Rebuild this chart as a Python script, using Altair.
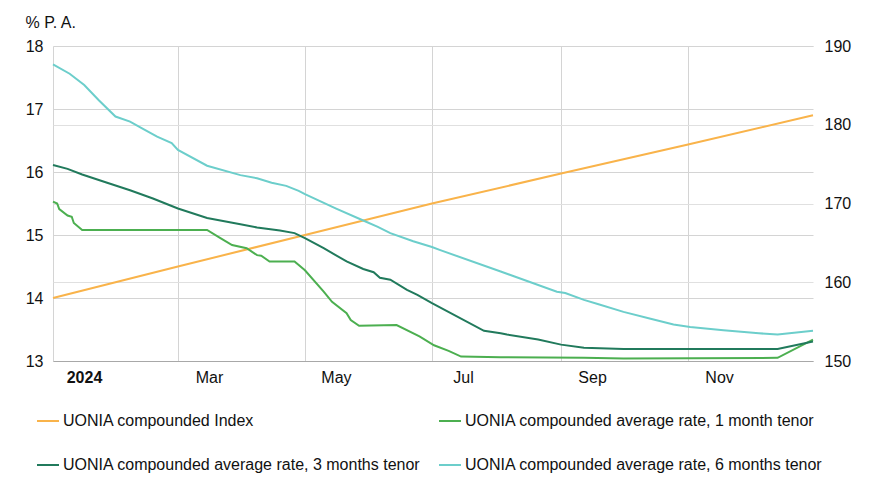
import altair as alt
import pandas as pd

S_INDEX = "UONIA compounded Index"
S_1M = "UONIA compounded average rate, 1 month tenor"
S_3M = "UONIA compounded average rate, 3 months tenor"
S_6M = "UONIA compounded average rate, 6 months tenor"

series_names = [S_INDEX, S_1M, S_3M, S_6M]
series_colors = ["#f9b34a", "#4caf50", "#217a5c", "#6ccecb"]

index_dates = ["2024-01-01", "2024-03-01", "2024-05-01", "2024-07-01",
               "2024-09-01", "2024-11-01", "2024-12-31"]
index_values = [158.0, 162.0, 166.0, 170.0, 173.8, 177.5, 181.2]

m1_dates = ["2024-01-01", "2024-01-03", "2024-01-04", "2024-01-08", "2024-01-10", "2024-01-11",
            "2024-01-15", "2024-03-15", "2024-03-21", "2024-03-27", "2024-04-03", "2024-04-08",
            "2024-04-10", "2024-04-14", "2024-04-26", "2024-05-01", "2024-05-10", "2024-05-14",
            "2024-05-21", "2024-05-23", "2024-05-27", "2024-06-14", "2024-06-25", "2024-07-02",
            "2024-07-09", "2024-07-15", "2024-08-03", "2024-09-12", "2024-10-01", "2024-12-14",
            "2024-12-31"]
m1_values = [15.53, 15.50, 15.41, 15.31, 15.29, 15.19,
             15.08, 15.08, 14.96, 14.84, 14.79, 14.68,
             14.67, 14.58, 14.58, 14.44, 14.10, 13.94,
             13.76, 13.65, 13.56, 13.57, 13.39, 13.25,
             13.16, 13.07, 13.06, 13.05, 13.04, 13.05,
             13.34]

m3_dates = ["2024-01-01", "2024-01-08", "2024-01-15", "2024-01-27", "2024-02-07", "2024-02-18",
            "2024-02-27", "2024-03-01", "2024-03-15", "2024-03-31", "2024-04-08", "2024-04-19",
            "2024-04-26", "2024-05-01", "2024-05-10", "2024-05-21", "2024-05-29", "2024-06-03",
            "2024-06-06", "2024-06-11", "2024-06-19", "2024-06-24", "2024-07-01", "2024-07-26",
            "2024-08-03", "2024-08-06", "2024-08-21", "2024-09-01", "2024-09-12", "2024-10-01",
            "2024-12-14", "2024-12-31"]
m3_values = [16.11, 16.05, 15.96, 15.83, 15.71, 15.58,
             15.46, 15.42, 15.27, 15.17, 15.12, 15.07,
             15.03, 14.95, 14.79, 14.58, 14.46, 14.41,
             14.32, 14.29, 14.13, 14.05, 13.92, 13.48,
             13.44, 13.42, 13.34, 13.26, 13.21, 13.19,
             13.19, 13.31]

m6_dates = ["2024-01-01", "2024-01-09", "2024-01-16", "2024-01-23", "2024-01-31", "2024-02-07",
            "2024-02-13", "2024-02-20", "2024-02-27", "2024-03-01", "2024-03-15", "2024-03-31",
            "2024-04-08", "2024-04-15", "2024-04-22", "2024-04-28", "2024-05-01", "2024-05-16",
            "2024-05-29", "2024-06-05", "2024-06-11", "2024-06-22", "2024-07-01", "2024-07-05",
            "2024-08-03", "2024-08-30", "2024-09-03", "2024-09-12", "2024-09-19", "2024-10-01",
            "2024-10-14", "2024-10-25", "2024-11-02", "2024-11-18", "2024-12-05", "2024-12-14",
            "2024-12-31"]
m6_values = [17.71, 17.56, 17.38, 17.14, 16.88, 16.80,
             16.69, 16.56, 16.46, 16.35, 16.10, 15.95,
             15.90, 15.83, 15.78, 15.70, 15.65, 15.42,
             15.23, 15.13, 15.03, 14.90, 14.81, 14.76,
             14.42, 14.10, 14.08, 13.97, 13.90, 13.78,
             13.67, 13.58, 13.54, 13.49, 13.44, 13.42,
             13.48]

left_ticks = [13, 14, 15, 16, 17, 18]
right_ticks = [150, 160, 170, 180, 190]

index_df = pd.DataFrame({"date": index_dates, "value": index_values, "series": S_INDEX})
rates_df = pd.concat([
    pd.DataFrame({"date": m1_dates, "value": m1_values, "series": S_1M}),
    pd.DataFrame({"date": m3_dates, "value": m3_values, "series": S_3M}),
    pd.DataFrame({"date": m6_dates, "value": m6_values, "series": S_6M}),
], ignore_index=True)

FONT = "Liberation Sans"

x_ticks = [alt.DateTime(year=2024, month=m, date=1, utc=True) for m in [1, 3, 5, 7, 9, 11]]

x_enc = alt.X(
    "date:T",
    scale=alt.Scale(type="utc", domain=[alt.DateTime(year=2024, month=1, date=1, utc=True),
                                        alt.DateTime(year=2024, month=12, date=31, utc=True)]),
    axis=alt.Axis(
        values=x_ticks,
        labelExpr="utcFormat(datum.value, utcmonth(datum.value) == 0 ? '%Y' : '%b')",
        labelFontWeight={"condition": {"test": "utcmonth(datum.value) == 0", "value": "bold"},
                         "value": "normal"},
        labelOffset=31,
        labelFlush=False,
        labelPadding=8,
        labelFontSize=16,
        labelColor="#111",
        grid=True,
        gridColor="#d4d4d4",
        ticks=False,
        domain=True,
        domainColor="#a8a8a8",
        title=None,
    ),
)

color_enc = alt.Color(
    "series:N",
    scale=alt.Scale(domain=series_names, range=series_colors),
    sort=series_names,
    legend=alt.Legend(
        title=None,
        orient="none",
        legendX=-17,
        legendY=363,
        direction="horizontal",
        columns=2,
        symbolType="stroke",
        symbolSize=484,
        symbolStrokeWidth=2,
        labelFontSize=16,
        labelColor="#111",
        labelOffset=3,
        labelLimit=500,
        columnPadding=14,
        rowPadding=24,
    ),
)

index_layer = alt.Chart(index_df).mark_line(strokeWidth=2).encode(
    x=x_enc,
    y=alt.Y(
        "value:Q",
        scale=alt.Scale(domain=[150, 190], nice=False, zero=False),
        axis=alt.Axis(
            orient="right",
            values=right_ticks,
            labelFontSize=16,
            labelColor="#111",
            labelPadding=11,
            grid=True,
            gridColor="#e0e0e0",
            ticks=False,
            domain=False,
            title=None,
        ),
    ),
    color=color_enc,
)

rates_layer = alt.Chart(rates_df).mark_line(strokeWidth=2).encode(
    x=x_enc,
    y=alt.Y(
        "value:Q",
        scale=alt.Scale(domain=[13, 18], nice=False, zero=False),
        axis=alt.Axis(
            orient="left",
            values=left_ticks,
            labelFontSize=16,
            labelColor="#111",
            labelPadding=10,
            grid=True,
            gridColor="#d4d4d4",
            ticks=False,
            domain=False,
            title="% P. A.",
            titleAngle=0,
            titleAlign="left",
            titleBaseline="alphabetic",
            titleX=-28,
            titleY=-19,
            titleFontSize=16,
            titleFontWeight="normal",
            titleColor="#111",
        ),
    ),
    color=color_enc,
)

chart = alt.layer(index_layer, rates_layer).resolve_scale(y="independent").properties(
    width=760,
    height=315,
    autosize="none",
    padding={"left": 45, "top": 38, "right": 70, "bottom": 130},
).configure(font=FONT).configure_view(stroke=None)

chart.save("out.html", embed_options={"renderer": "svg", "actions": False})
